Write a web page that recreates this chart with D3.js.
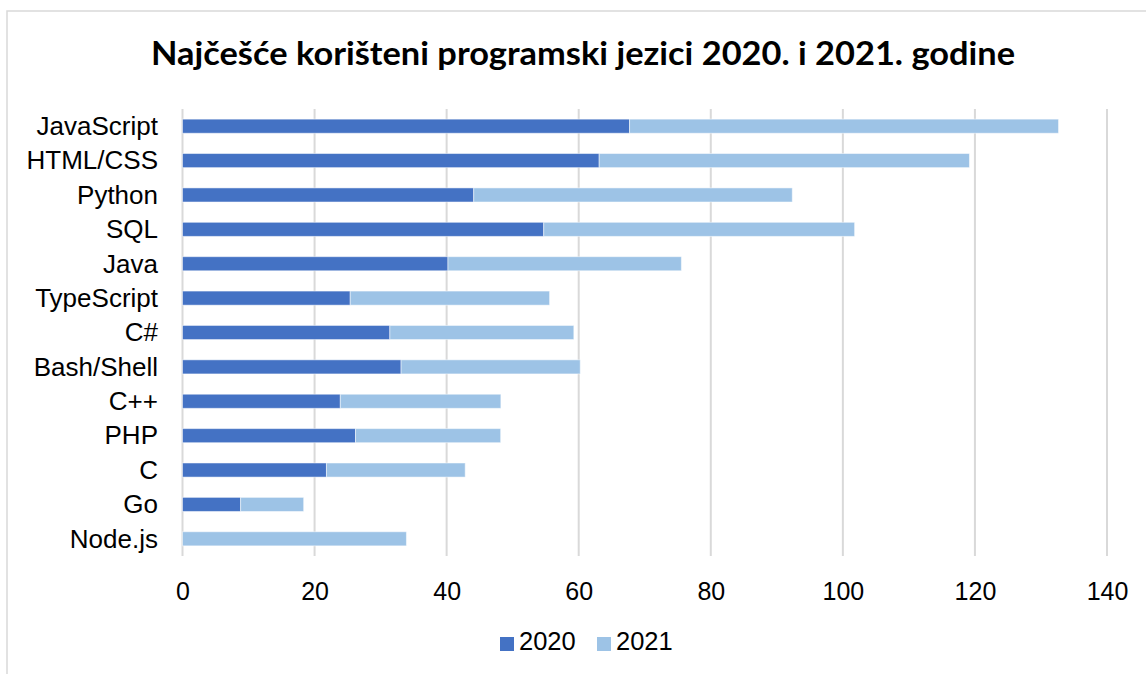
<!DOCTYPE html>
<html>
<head>
<meta charset="utf-8">
<script src="https://cdn.jsdelivr.net/npm/d3@7"></script>
<style>
  body { margin: 0; background: #fff; }
  svg { display: block; }
</style>
</head>
<body>
<div class="chart"></div>
<script>
// data (Stack Overflow survey %)
var categories = ['JavaScript', 'HTML/CSS', 'Python', 'SQL', 'Java', 'TypeScript', 'C#',
  'Bash/Shell', 'C++', 'PHP', 'C', 'Go', 'Node.js'];
var values2020 = [67.7, 63.1, 44.1, 54.7, 40.2, 25.4, 31.4, 33.1, 23.9, 26.2, 21.8, 8.8, 0];
var values2021 = [64.96, 56.07, 48.24, 47.08, 35.35, 30.19, 27.86, 27.13, 24.31, 21.98, 21.01, 9.55, 33.91];
var seriesNames = ['2020', '2021'];
var colors = ['#4472c4', '#9dc3e6'];
var ticks = [0, 20, 40, 60, 80, 100, 120, 140];

var width = 1146;
var height = 674;
var margin = {top: 109, right: 39, bottom: 118, left: 182.5};

var rows = categories.map((c, i) => ({name: c, '2020': values2020[i], '2021': values2021[i]}));
var stacked = d3.stack().keys(seriesNames)(rows);

var x = d3.scaleLinear().domain([0, 140]).range([margin.left, width - margin.right]);
var y = d3.scaleBand().domain(categories).range([margin.top, height - margin.bottom]).paddingInner(0.59).paddingOuter(0.295);

var svg = d3.select('.chart').append('svg')
  .attr('width', width)
  .attr('height', height)
  .style('font-family', '"Liberation Sans", Arial, sans-serif');

// chart frame
svg.append('rect')
  .attr('x', 7)
  .attr('y', 11)
  .attr('width', 1200)
  .attr('height', 700)
  .attr('fill', 'none')
  .attr('stroke', '#d9d9d9')
  .attr('stroke-width', 1.5);

svg.append('text')
  .attr('x', 583)
  .attr('y', 65)
  .attr('text-anchor', 'middle')
  .attr('textLength', 864)
  .attr('lengthAdjust', 'spacingAndGlyphs')
  .style('font-family', 'Lato, "Open Sans", sans-serif')
  .style('font-weight', 'bold')
  .style('font-size', '32px')
  .attr('fill', '#000')
  .text('Najčešće korišteni programski jezici 2020. i 2021. godine');

// gridlines
svg.append('g')
  .selectAll('line')
  .data(ticks)
  .enter().append('line')
  .attr('x1', d => x(d))
  .attr('x2', d => x(d))
  .attr('y1', margin.top)
  .attr('y2', height - margin.bottom)
  .attr('stroke', '#d9d9d9')
  .attr('stroke-width', 2);

// bars
svg.append('g')
  .selectAll('g')
  .data(stacked)
  .enter().append('g')
  .attr('fill', (d, i) => colors[i])
  .selectAll('rect')
  .data(d => d)
  .enter().append('rect')
  .attr('x', d => x(d[0]))
  .attr('y', d => y(d.data.name))
  .attr('width', d => x(d[1]) - x(d[0]))
  .attr('height', y.bandwidth())
  .attr('stroke', '#ffffff')
  .attr('stroke-opacity', 0.5)
  .attr('stroke-width', d => (d[1] - d[0]) > 0 ? 1 : 0);

// category labels
svg.append('g')
  .selectAll('text')
  .data(categories)
  .enter().append('text')
  .attr('x', 158)
  .attr('y', d => y(d) + y.bandwidth() / 2)
  .attr('dy', '0.34em')
  .attr('text-anchor', 'end')
  .style('font-size', '26px')
  .attr('fill', '#000')
  .text(d => d);

// x axis tick labels
var xAxis = svg.append('g')
  .attr('transform', `translate(0, ${height - margin.bottom})`)
  .call(d3.axisBottom(x).tickValues(ticks).tickSize(0).tickPadding(26));
xAxis.select('.domain').remove();
xAxis.selectAll('text')
  .style('font-size', '25px')
  .style('font-family', '"Liberation Sans", Arial, sans-serif')
  .attr('fill', '#000');

// legend
var legendX = [500, 597];
var legend = svg.append('g')
  .selectAll('g')
  .data(seriesNames)
  .enter().append('g')
  .attr('transform', (d, i) => `translate(${legendX[i]}, 637)`);
legend.append('rect')
  .attr('width', 14)
  .attr('height', 14)
  .attr('fill', (d, i) => colors[i]);
legend.append('text')
  .attr('x', 19)
  .attr('y', 13)
  .style('font-size', '25.5px')
  .attr('fill', '#000')
  .text(d => d);
</script>
</body>
</html>
